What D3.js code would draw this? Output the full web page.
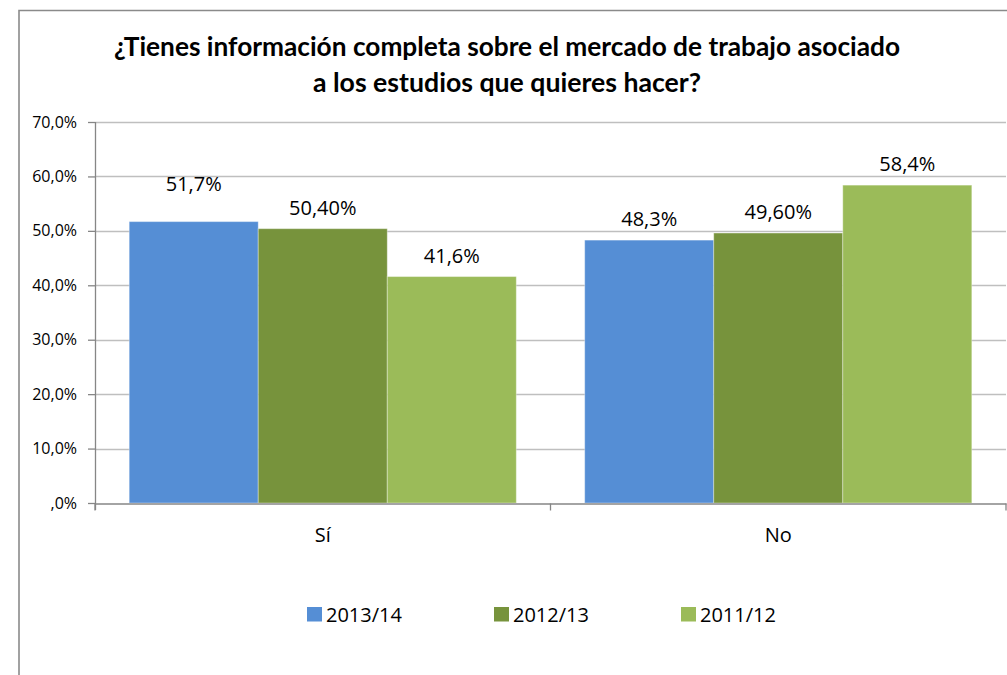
<!DOCTYPE html>
<html>
<head>
<meta charset="utf-8">
<script src="https://cdn.jsdelivr.net/npm/d3@7"></script>
<style>
  body { margin: 0; background: #fff; }
  svg { display: block; }
  text { font-family: "Open Sans", sans-serif; fill: #000; }
</style>
</head>
<body>
<div id="chart"></div>
<script>
// datos
const categories = ['Sí', 'No'];
const seriesNames = ['2013/14', '2012/13', '2011/12'];
const values2013 = [51.7, 48.3];
const values2012 = [50.4, 49.6];
const values2011 = [41.6, 58.4];
const labelDecimals = [1, 2, 1];
const yTicks = [0, 10, 20, 30, 40, 50, 60, 70];
const titleLines = ['¿Tienes información completa sobre el mercado de trabajo asociado',
  'a los estudios que quieres hacer?'];

const colors = ['#558ED5', '#77933C', '#9BBB59'];
const seriesValues = [values2013, values2012, values2011];

const width = 1007, height = 675;
const margin = { top: 122, right: 1, bottom: 172, left: 95 };

const locale = d3.formatLocale({ decimal: ',', thousands: '.', grouping: [3], currency: ['', '€'] });
const fmtTick = (v) => v === 0 ? ',0%' : locale.format('.1f')(v) + '%';

const svg = d3.select('#chart').append('svg')
  .attr('width', width)
  .attr('height', height);

// borde del area del grafico (recortado a la derecha y abajo)
svg.append('path')
  .attr('d', 'M19,' + (height + 5) + 'V10.5H' + (width + 5))
  .attr('fill', 'none')
  .attr('stroke', '#8a8a8a')
  .attr('stroke-width', 1.6);

const x0 = d3.scaleBand()
  .domain(categories)
  .range([margin.left, width - margin.right]);
const x1 = d3.scaleBand()
  .domain(seriesNames)
  .range([0, x0.bandwidth()])
  .paddingOuter(0.265);
const y = d3.scaleLinear()
  .domain([0, 70])
  .range([height - margin.bottom, margin.top]);

// lineas de division
svg.append('g')
  .selectAll('line')
  .data(yTicks.filter((d) => d > 0))
  .enter().append('line')
  .attr('x1', margin.left)
  .attr('x2', width - margin.right)
  .attr('y1', (d) => Math.round(y(d)) + 0.5)
  .attr('y2', (d) => Math.round(y(d)) + 0.5)
  .attr('stroke', '#bfbfbf')
  .attr('stroke-width', 1.3);

// barras
const groups = svg.append('g')
  .selectAll('g')
  .data(seriesNames)
  .enter().append('g')
  .attr('fill', (d, i) => colors[i]);

groups.selectAll('rect')
  .data((s, i) => categories.map((c, j) => ({ c: c, s: s, v: seriesValues[i][j] })))
  .enter().append('rect')
  .attr('x', (d) => x0(d.c) + x1(d.s))
  .attr('y', (d) => y(d.v))
  .attr('width', x1.bandwidth())
  .attr('height', (d) => y(0) - y(d.v))
  .attr('stroke', 'rgba(255,255,255,0.35)')
  .attr('stroke-width', 1);

// etiquetas de datos
const labels = [];
seriesNames.forEach((s, i) => categories.forEach((c, j) => {
  labels.push({ c: c, s: s, v: seriesValues[i][j], dec: labelDecimals[i], i: i, j: j });
}));
svg.append('g')
  .selectAll('text')
  .data(labels)
  .enter().append('text')
  .attr('x', (d) => x0(d.c) + x1(d.s) + x1.bandwidth() / 2)
  // la etiqueta 51,7% esta desplazada hacia arriba en el original
  .attr('y', (d) => y(d.v) - (d.i === 0 && d.j === 0 ? 30.5 : 14))
  .attr('text-anchor', 'middle')
  .style('font-size', '20px')
  .text((d) => locale.format('.' + d.dec + 'f')(d.v) + '%');

// eje Y
const yAxis = svg.append('g')
  .attr('transform', 'translate(' + margin.left + ',0)')
  .call(d3.axisLeft(y).tickValues(yTicks).tickFormat(fmtTick).tickSize(7).tickPadding(11).tickSizeOuter(0));
yAxis.select('.domain').attr('stroke', '#868686').attr('stroke-width', 1.3)
  .attr('d', 'M0.5,' + y(70) + 'V' + (y(0) + 7));
yAxis.selectAll('.tick line').attr('stroke', '#868686').attr('stroke-width', 1.3);
yAxis.selectAll('text').style('font-size', '16px').attr('fill', '#000');

// eje X
const xAxis = svg.append('g')
  .attr('transform', 'translate(0,' + (y(0) + 0.5) + ')')
  .call(d3.axisBottom(x0).tickSize(0).tickPadding(24));
xAxis.select('.domain').attr('stroke', '#868686').attr('stroke-width', 1.3);
xAxis.selectAll('text').style('font-size', '20px').attr('fill', '#000');
const bounds = categories.map((c) => x0(c)).concat([x0.range()[1]]);
xAxis.selectAll('.edge')
  .data(bounds)
  .enter().append('line')
  .attr('x1', (d) => d).attr('x2', (d) => d)
  .attr('y1', 0).attr('y2', 7)
  .attr('stroke', '#868686').attr('stroke-width', 1.3);

// titulo
svg.append('g')
  .selectAll('text')
  .data(titleLines)
  .enter().append('text')
  .attr('x', 507)
  .attr('y', (d, i) => 56 + i * 36)
  .attr('text-anchor', 'middle')
  .attr('textLength', (d, i) => i === 0 ? 786 : 388)
  .attr('lengthAdjust', 'spacingAndGlyphs')
  .style('font-family', 'Lato, sans-serif')
  .style('font-weight', 'bold')
  .style('font-size', '26px')
  .text((d) => d);

// leyenda
const legend = svg.append('g')
  .selectAll('g')
  .data(seriesNames)
  .enter().append('g')
  .attr('transform', (d, i) => 'translate(' + (307 + i * 187) + ',607)');
legend.append('rect')
  .attr('width', 15)
  .attr('height', 14.5)
  .attr('fill', (d, i) => colors[i]);
legend.append('text')
  .attr('x', 19)
  .attr('y', 15)
  .style('font-size', '20px')
  .text((d) => d);
</script>
</body>
</html>
